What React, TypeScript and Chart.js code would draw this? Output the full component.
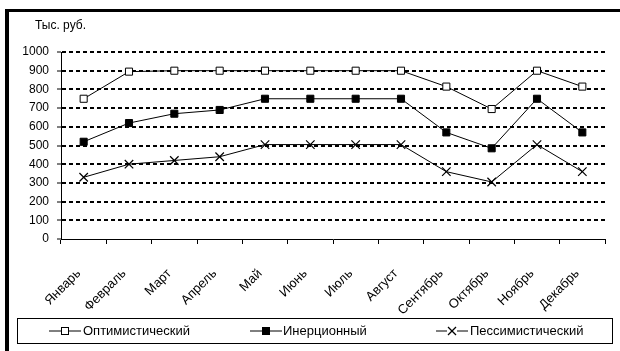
import React, { useEffect, useRef } from "react";
import { Chart, registerables } from "chart.js";

Chart.register(...registerables);

const months = ["Январь", "Февраль", "Март", "Апрель", "Май", "Июнь", "Июль", "Август", "Сентябрь", "Октябрь", "Ноябрь", "Декабрь"];
const optimistic = [750, 895, 900, 900, 900, 900, 900, 900, 815, 695, 900, 815];
const inertial = [520, 620, 670, 690, 750, 750, 750, 750, 570, 485, 750, 570];
const pessimistic = [330, 400, 420, 440, 505, 505, 505, 505, 360, 305, 505, 360];
const yTicks = [0, 100, 200, 300, 400, 500, 600, 700, 800, 900, 1000];
const unitLabel = "Тыс. руб.";
const seriesNames = ["Оптимистический", "Инерционный", "Пессимистический"];

const FONT = "'Liberation Sans', Arial, sans-serif";

function Icon({ kind }: { kind: number }) {
  return (
    <svg width="32" height="12" style={{ display: "block" }}>
      <line x1="0" y1="6" x2="32" y2="6" stroke="#000" strokeWidth="1" />
      {kind === 0 && <rect x="12.5" y="2.5" width="7" height="7" fill="#fff" stroke="#000" strokeWidth="1" />}
      {kind === 1 && <rect x="12.5" y="2.5" width="7" height="7" fill="#000" stroke="#000" strokeWidth="1" />}
      {kind === 2 && (
        <g>
          <rect x="11" y="1" width="10" height="10" fill="#fff" stroke="none" />
          <line x1="12" y1="2" x2="20" y2="10" stroke="#000" strokeWidth="1.2" />
          <line x1="20" y1="2" x2="12" y2="10" stroke="#000" strokeWidth="1.2" />
        </g>
      )}
    </svg>
  );
}

export default function App() {
  const ref = useRef<HTMLCanvasElement | null>(null);

  useEffect(() => {
    const canvas = ref.current;
    if (!canvas) return;
    const common = {
      borderColor: "#000",
      borderWidth: 1,
      pointBorderColor: "#000",
      pointBorderWidth: 1,
      tension: 0,
      fill: false,
    };
    const chart = new Chart(canvas, {
      type: "line",
      data: {
        labels: months,
        datasets: [
          { ...common, label: seriesNames[0], data: optimistic, pointStyle: "rect", pointRadius: 5, pointBackgroundColor: "#fff" },
          { ...common, label: seriesNames[1], data: inertial, pointStyle: "rect", pointRadius: 5, pointBackgroundColor: "#000" },
          { ...common, label: seriesNames[2], data: pessimistic, pointStyle: "crossRot", pointRadius: 6, pointBorderWidth: 1.2, pointBackgroundColor: "#000" },
        ],
      },
      options: {
        responsive: false,
        animation: false,
        devicePixelRatio: 1,
        layout: { padding: { left: 0, right: 15, top: 52, bottom: 0 } },
        plugins: { legend: { display: false }, tooltip: { enabled: false }, title: { display: false } },
        scales: {
          x: {
            offset: true,
            grid: { offset: true, drawOnChartArea: false, drawTicks: true, tickLength: 5, color: "#000", tickColor: "#000", lineWidth: 1 },
            border: { display: true, color: "#000", width: 1 },
            ticks: {
              color: "#000",
              font: { family: FONT, size: 13 },
              minRotation: 45,
              maxRotation: 45,
              padding: 22,
              labelOffset: -5,
              autoSkip: false,
            },
            afterFit: (s: any) => { s.height = 112; },
          },
          y: {
            min: 0,
            max: 1000,
            afterBuildTicks: (s: any) => { s.ticks = yTicks.map((v) => ({ value: v })); },
            grid: {
              drawOnChartArea: true,
              drawTicks: true,
              tickLength: 4,
              color: (ctx: any) => (ctx.tick && ctx.tick.value === 0 ? "rgba(0,0,0,0)" : "#000"),
              tickColor: "#000",
              lineWidth: 2,
              tickWidth: 1,
            },
            border: { display: true, color: "#000", width: 1, dash: [4, 3] },
            ticks: {
              color: "#000",
              font: { family: FONT, size: 12 },
              padding: 8,
              callback: (v: any) => String(v),
            },
            afterFit: (s: any) => { s.width = 61; },
          },
        },
      },
    });
    return () => chart.destroy();
  }, []);

  const legendItems = [
    { iconX: 49, textX: 83 },
    { iconX: 250, textX: 283 },
    { iconX: 436, textX: 470 },
  ];

  return (
    <div style={{ position: "fixed", left: 0, top: 0, width: 620, height: 351, background: "#fff", overflow: "hidden", fontFamily: FONT }}>
      <canvas ref={ref} width={620} height={351} style={{ position: "absolute", left: 0, top: 0, width: 620, height: 351 }} />
      <div style={{ position: "absolute", left: 5, top: 9, width: 615, height: 3, background: "#000" }} />
      <div style={{ position: "absolute", left: 5, top: 9, width: 4, height: 342, background: "#000" }} />
      <div style={{ position: "absolute", left: 35, top: 18, fontSize: 12, color: "#000", lineHeight: "14px" }}>{unitLabel}</div>
      <div style={{ position: "absolute", left: 17, top: 318, width: 594, height: 24, border: "1px solid #000" }}>
        {legendItems.map((it, i) => (
          <React.Fragment key={i}>
            <div style={{ position: "absolute", left: it.iconX - 18, top: 6 }}>
              <Icon kind={i} />
            </div>
            <div style={{ position: "absolute", left: it.textX - 18, top: 4, fontSize: 13, lineHeight: "16px", color: "#000", whiteSpace: "nowrap" }}>
              {seriesNames[i]}
            </div>
          </React.Fragment>
        ))}
      </div>
    </div>
  );
}
